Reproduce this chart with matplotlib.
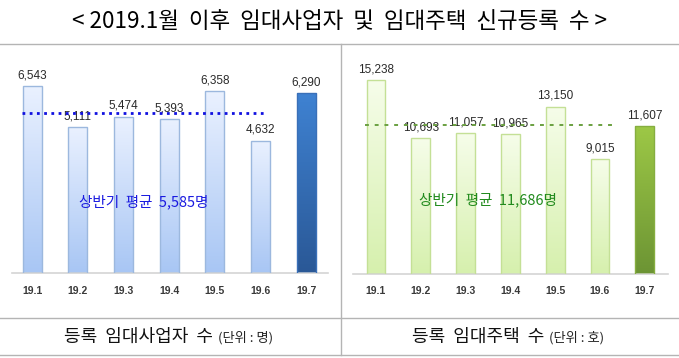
import numpy as np
import matplotlib
matplotlib.use("Agg")
import matplotlib.pyplot as plt
from matplotlib.colors import LinearSegmentedColormap
from matplotlib.lines import Line2D

plt.rcParams['font.family'] = ['Noto Sans CJK KR', 'DejaVu Sans']

months = ["19.1", "19.2", "19.3", "19.4", "19.5", "19.6", "19.7"]
landlords = [6543, 5111, 5474, 5393, 6358, 4632, 6290]
houses = [15238, 10693, 11057, 10965, 13150, 9015, 11607]
landlord_avg = 5585
house_avg = 11686
title = "< 2019.1월  이후  임대사업자  및  임대주택  신규등록  수 >"
left_label = "등록  임대사업자  수"
left_unit = "(단위 : 명)"
right_label = "등록  임대주택  수"
right_unit = "(단위 : 호)"
left_avg_text = "상반기  평균  5,585명"
right_avg_text = "상반기  평균  11,686명"

W, H = 679, 358
fig = plt.figure(figsize=(W / 100, H / 100), dpi=100)


def px_axes(x0, y0, x1, y1):
    return fig.add_axes([x0 / W, 1 - y1 / H, (x1 - x0) / W, (y1 - y0) / H])


def grad_bars(ax, values, light, dark, edge, hl_top, hl_bot, hl_edge, width):
    xs = np.arange(len(values))
    bars = ax.bar(xs, values, width=width, color='none', edgecolor='none', zorder=2)
    g = np.linspace(0, 1, 256).reshape(-1, 1)
    for i, b in enumerate(bars):
        last = i == len(values) - 1
        top_c, bot_c, ec = (hl_top, hl_bot, hl_edge) if last else (light, dark, edge)
        cmap = LinearSegmentedColormap.from_list("g", [top_c, bot_c])
        x0, w, h = b.get_x(), b.get_width(), b.get_height()
        im = ax.imshow(g, cmap=cmap, extent=[x0, x0 + w, 0, h], aspect='auto',
                       origin='upper', zorder=2, interpolation='bicubic')
        im.set_clip_path(b)
        ax.add_patch(plt.Rectangle((x0, 0), w, h, fill=False, edgecolor=ec, lw=1.0, zorder=3))
    return bars


def style(ax, xlim, ylim):
    ax.set_xlim(*xlim)
    ax.set_ylim(*ylim)
    for s in ['top', 'right', 'left']:
        ax.spines[s].set_visible(False)
    ax.spines['bottom'].set_color('#d4d4d4')
    ax.spines['bottom'].set_linewidth(1.2)
    ax.set_yticks([])
    ax.set_xticks(range(len(months)))
    ax.set_xticklabels(months, fontsize=7.5, color='#3a3a3a', fontweight='bold',
                       family=['Liberation Sans', 'DejaVu Sans'])
    ax.tick_params(axis='x', length=0, pad=9)
    ax.patch.set_alpha(0)


# Left chart
axL = px_axes(12, 50, 328, 273)
style(axL, (-0.44, 6.475), (0, 223 / 0.02858))
grad_bars(axL, landlords, '#eaf1ff', '#a8c6f4', '#9cb8de', '#3f82d2', '#2a5896', '#3a70b8', 0.42)
for i, v in enumerate(landlords):
    axL.annotate(f"{v:,}", (i, v), xytext=(0, 3.5), textcoords='offset points',
                 ha='center', va='bottom', fontsize=8.5, color='#2a2a2a',
                 family=['Liberation Sans', 'DejaVu Sans'], zorder=4)
axL.plot([-0.22, 5.14], [landlord_avg, landlord_avg], color='#1010e0', lw=2.0,
         linestyle=(0, (1, 1.6)), zorder=5)
axL.text(2.45, 2484, left_avg_text, ha='center', va='center', fontsize=10.5,
         color='#1a1ae0', fontweight='medium', zorder=5)

# Right chart
axR = px_axes(353, 50, 668, 274)
style(axR, (-0.513, 6.52), (0, 224 / 0.01273))
grad_bars(axR, houses, '#f6fdea', '#d6f0ad', '#c4e096', '#9dc846', '#6c9434', '#86ae40', 0.42)
for i, v in enumerate(houses):
    axR.annotate(f"{v:,}", (i, v), xytext=(0, 3.5), textcoords='offset points',
                 ha='center', va='bottom', fontsize=8.5, color='#2a2a2a',
                 family=['Liberation Sans', 'DejaVu Sans'], zorder=4)
axR.plot([-0.25, 5.27], [house_avg, house_avg], color='#6aa040', lw=1.4,
         linestyle=(0, (2, 3)), zorder=5)
axR.text(2.5, 5813, right_avg_text, ha='center', va='center', fontsize=10.5,
         color='#208a1c', fontweight='medium', zorder=5)

# Frame lines
gray = '#b4b4b4'
for y in (44, 318, 355):
    fig.add_artist(Line2D([0, 1], [1 - y / H, 1 - y / H], color=gray, lw=1.0))
fig.add_artist(Line2D([341 / W, 341 / W], [1 - 44 / H, 1 - 355 / H], color=gray, lw=1.0))

# Title
fig.text(340 / W, 1 - 22 / H, title, ha='center', va='center', fontsize=16.2,
         color='#000000', fontweight='medium')

# Bottom labels
fig.text(213 / W, 1 - 337 / H, left_label, ha='right', va='center', fontsize=13, color='#111111')
fig.text(218 / W, 1 - 338 / H, left_unit, ha='left', va='center', fontsize=9.5, color='#222222')
fig.text(544 / W, 1 - 337 / H, right_label, ha='right', va='center', fontsize=13, color='#111111')
fig.text(549 / W, 1 - 338 / H, right_unit, ha='left', va='center', fontsize=9.5, color='#222222')

fig.savefig("out.png", dpi=100)
